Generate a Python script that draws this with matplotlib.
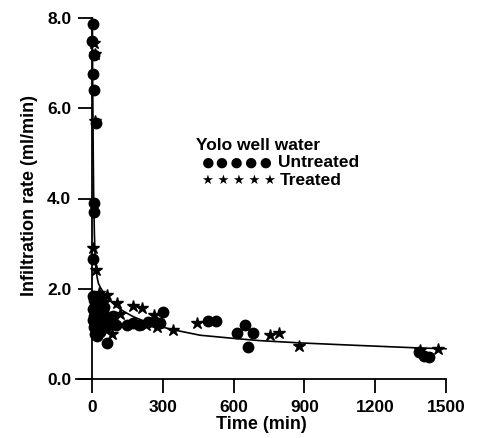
import matplotlib
matplotlib.use("Agg")
import matplotlib.pyplot as plt

plt.rcParams['font.family'] = ['Liberation Sans', 'DejaVu Sans']
plt.rcParams['font.weight'] = 'bold'

# Untreated (circles): time (min), infiltration rate (ml/min)
untreated_t = [3, 0, 8, 5, 10, 15, 8, 8, 5,
               5, 8, 12, 6, 15, 10, 20, 5, 14, 25, 8, 18, 30, 12, 22, 35,
               40, 45, 50, 55, 60, 70, 80, 90, 100, 62, 28, 38,
               150, 175, 200, 237, 267, 288, 301,
               493, 526, 649, 616, 684, 660,
               1384, 1405, 1426]
untreated_y = [7.87, 7.5, 7.17, 6.77, 6.41, 5.68, 3.9, 3.71, 2.66,
               1.85, 1.75, 1.65, 1.55, 1.5, 1.4, 1.45, 1.3, 1.25, 1.3, 1.15, 1.1, 1.2, 1.0, 0.95, 1.05,
               1.35, 1.5, 1.6, 1.25, 1.15, 1.35, 1.25, 1.4, 1.2, 0.8, 1.65, 1.75,
               1.2, 1.25, 1.2, 1.27, 1.27, 1.24, 1.49,
               1.29, 1.29, 1.2, 1.01, 1.03, 0.72,
               0.6, 0.51, 0.48]

# Treated (stars)
treated_t = [10, 12, 14, 5, 17, 30, 62, 105, 172, 210, 263, 274, 343, 83,
             50, 40, 120, 230, 444, 755, 793, 878, 1391, 1468]
treated_y = [7.45, 7.2, 5.72, 2.9, 2.42, 1.9, 1.86, 1.69, 1.62, 1.57, 1.42, 1.16, 1.09, 1.0,
             1.7, 1.6, 1.45, 1.2, 1.24, 0.98, 1.01, 0.74, 0.64, 0.66]

# Fitted curve
curve_t = [1.5, 2, 3, 4, 5, 7, 10, 13, 17, 22, 27, 35, 48, 70, 105, 140, 175, 260, 345,
           458, 600, 712, 882, 1100, 1376, 1500]
curve_y = [8.0, 7.2, 6.4, 5.7, 5.0, 4.0, 3.2, 2.75, 2.42, 2.24, 2.12, 2.03, 1.92, 1.76,
           1.6, 1.48, 1.38, 1.2, 1.09, 0.97, 0.9, 0.85, 0.8, 0.75, 0.69, 0.67]

x_ticks = [0, 300, 600, 900, 1200, 1500]
y_ticks = [0.0, 2.0, 4.0, 6.0, 8.0]

fig = plt.figure(figsize=(4.82, 4.38), dpi=100)
ax = fig.add_axes([76/482, 1-379/438, 370/482, 361/438])

ax.plot(curve_t, curve_y, color='black', lw=1.2, zorder=2, clip_on=False)
ax.plot(untreated_t, untreated_y, linestyle='none', marker='o', ms=7.5,
        color='black', zorder=3, clip_on=False)
ax.plot(treated_t, treated_y, linestyle='none', marker='*', ms=9,
        color='black', zorder=3, clip_on=False)

ax.set_xlim(-68, 1500)
ax.set_ylim(0, 8)
ax.spines['left'].set_position(('data', 0))
ax.spines['top'].set_visible(False)
ax.spines['right'].set_visible(False)
for s in ('left', 'bottom'):
    ax.spines[s].set_linewidth(1.3)

ax.set_xticks(x_ticks)
ax.set_xticklabels([str(v) for v in x_ticks])
ax.set_yticks(y_ticks)
ax.set_yticklabels([f"{v:.1f}" for v in y_ticks])
ax.tick_params(axis='both', direction='out', length=10, width=1.3,
               labelsize=12.5, pad=5)
for lab in ax.get_xticklabels() + ax.get_yticklabels():
    lab.set_fontweight('bold')

ax.set_xlabel('Time (min)', fontsize=13, fontweight='bold', labelpad=1)
fig.text(30/482, 1-195/438, 'Infiltration rate (ml/min)', rotation=90,
         ha='center', va='center', fontsize=13, fontweight='bold')

ax.text(441, 5.17, 'Yolo well water', fontsize=12.5, fontweight='bold',
        ha='left', va='center')
ax.text(462, 4.79, '●●●●●', fontsize=17.5, fontweight='bold',
        ha='left', va='center')
ax.text(790, 4.79, 'Untreated', fontsize=12.5, fontweight='bold',
        ha='left', va='center')
ax.text(466, 4.39, '★ ★ ★ ★ ★', fontsize=9.5, fontweight='bold',
        ha='left', va='center')
ax.text(795, 4.39, 'Treated', fontsize=12.5, fontweight='bold',
        ha='left', va='center')

fig.savefig('out.png', dpi=100)
